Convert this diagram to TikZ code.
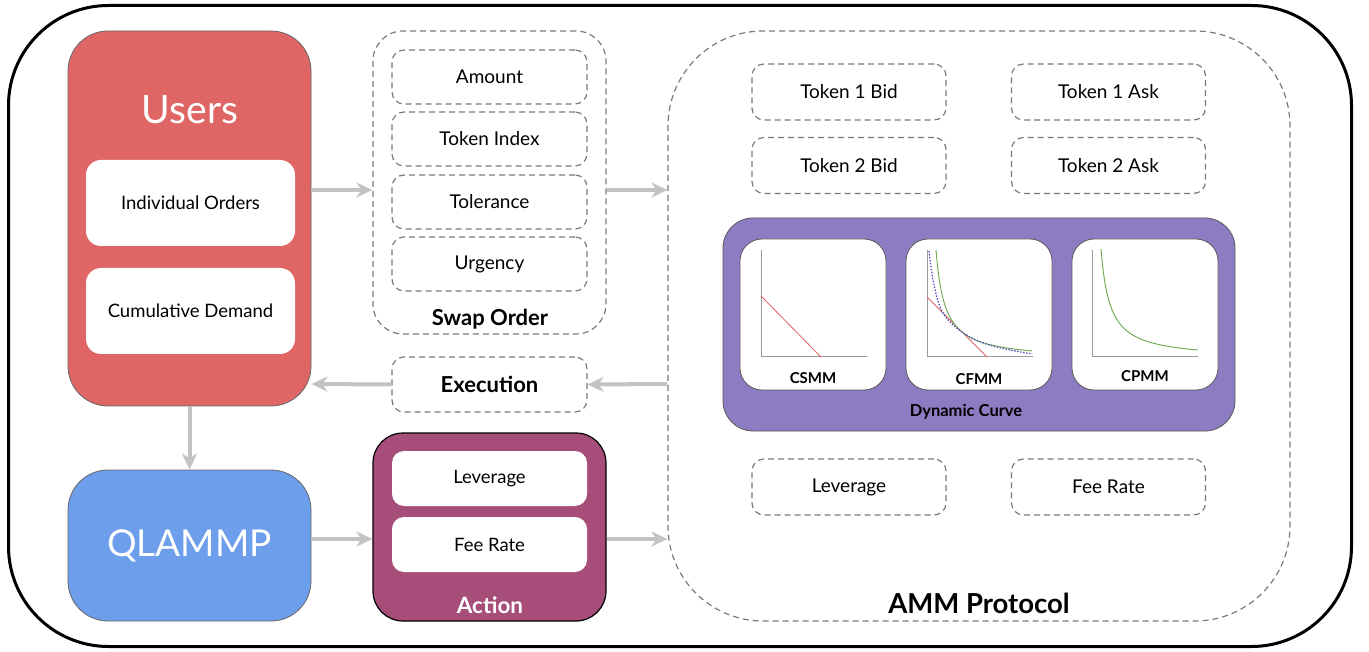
\documentclass[tikz,border=0pt]{standalone}
\usepackage{fontspec}
\setmainfont{Lato}
\usetikzlibrary{arrows.meta}
\definecolor{usersred}{HTML}{E06666}
\definecolor{qblue}{HTML}{6D9EEB}
\definecolor{actpurple}{HTML}{A64D79}
\definecolor{dynpurple}{HTML}{8E7CC3}
\definecolor{arrgray}{HTML}{C3C3C3}
\definecolor{dashgray}{HTML}{7A7A7A}
\definecolor{axgray}{HTML}{9A9A9A}
\definecolor{cgreen}{HTML}{6AA84F}
\definecolor{cred}{HTML}{E06060}
\definecolor{cblue}{HTML}{4F4FC0}
\newcommand{\fs}[1]{\fontsize{#1}{#1}\selectfont}
\tikzset{
  outerbox/.style={draw=black, line width=3, rounded corners=100},
  bigbox/.style={draw=gray!80!black, line width=0.8, rounded corners=40},
  whitebox/.style={fill=white, draw=none, rounded corners=15, font=\fs{18.5}},
  dbox/.style={draw=dashgray, line width=1.2, dash pattern=on 6pt off 4pt, rounded corners=12, font=\fs{19}},
  container/.style={draw=dashgray, line width=1.2, dash pattern=on 6pt off 4pt},
  arr/.style={draw=arrgray, line width=4, -{Stealth[length=16, width=15, inset=5]}},
  plotbox/.style={fill=white, draw=gray!70!black, line width=0.8, rounded corners=22},
  axis/.style={draw=axgray, line width=1},
  lbl/.style={font=\bfseries\fs{22}}
}
\begin{document}
\begin{tikzpicture}[x=1pt, y=-1pt]
\useasboundingbox (0,0) rectangle (1369,652);
% outer frame
\node[outerbox, minimum width=1343, minimum height=641, inner sep=0] (frame) at (680,326) {};

% Users
\node[bigbox, fill=usersred, minimum width=243, minimum height=375, inner sep=0] (users) at (189.5,218.5) {};
\node[text=white, font=\fs{39}] (userslbl) at (190,110) {Users};
\node[whitebox, minimum width=209, minimum height=86] (indiv) at (190.5,203) {Individual Orders};
\node[whitebox, minimum width=209, minimum height=86] (cumul) at (190.5,311) {Cumulative Demand};

% QLAMMP
\node[bigbox, fill=qblue, minimum width=243, minimum height=151, inner sep=0, text=white, font=\fs{37}] (qlammp) at (189.5,545.5) {QLAMMP};

% Swap order
\node[container, rounded corners=30, minimum width=233, minimum height=303, inner sep=0] (swap) at (489.5,182.5) {};
\node[dbox, minimum width=195, minimum height=54] (amount) at (489.5,77) {Amount};
\node[dbox, minimum width=195, minimum height=54] (tindex) at (489.5,139) {Token Index};
\node[dbox, minimum width=195, minimum height=54] (toler) at (489.5,202) {Tolerance};
\node[dbox, minimum width=195, minimum height=54] (urg) at (489.5,264) {Urgency};
\node[lbl] (swaplbl) at (490,319) {Swap Order};

% Execution
\node[dbox, minimum width=195, minimum height=55, font=\bfseries\fs{22}] (exec) at (489.5,384.5) {Execution};

% Action
\node[draw=black, line width=1.2, fill=actpurple, rounded corners=30, minimum width=233, minimum height=188, inner sep=0] (action) at (489.5,527) {};
\node[whitebox, rounded corners=12, minimum width=195, minimum height=55] (lev1) at (489.5,478.5) {Leverage};
\node[whitebox, rounded corners=12, minimum width=195, minimum height=55] (fee1) at (489.5,544.5) {Fee Rate};
\node[text=white, font=\bfseries\fs{22.5}] (actlbl) at (490,605) {Action};

% AMM protocol
\node[container, rounded corners=95, minimum width=622, minimum height=590, inner sep=0] (amm) at (979,326) {};
\node[font=\bfseries\fs{27.5}] (ammlbl) at (979,603) {AMM Protocol};
\node[dbox, minimum width=194, minimum height=56] (t1bid) at (849,92) {Token 1 Bid};
\node[dbox, minimum width=194, minimum height=56] (t1ask) at (1108.5,92) {Token 1 Ask};
\node[dbox, minimum width=194, minimum height=56] (t2bid) at (849,165.5) {Token 2 Bid};
\node[dbox, minimum width=194, minimum height=56] (t2ask) at (1108.5,165.5) {Token 2 Ask};
\node[dbox, minimum width=194, minimum height=56] (lev2) at (849,487) {Leverage};
\node[dbox, minimum width=194, minimum height=56] (fee2) at (1108.5,487) {Fee Rate};

% Dynamic curve
\node[draw=gray!70!black, line width=0.8, fill=dynpurple, rounded corners=30, minimum width=512, minimum height=213, inner sep=0] (dyn) at (979,324.5) {};
\node[font=\bfseries\fs{16.5}] (dynlbl) at (966,412) {Dynamic Curve};
\node[plotbox, minimum width=146, minimum height=151, inner sep=0] (csmm) at (813,314.5) {};
\node[plotbox, minimum width=146, minimum height=151, inner sep=0] (cfmm) at (979,314.5) {};
\node[plotbox, minimum width=146, minimum height=151, inner sep=0] (cpmm) at (1145,314.5) {};
\node[font=\bfseries\fs{15}] (csmmlbl) at (813,378) {CSMM};
\node[font=\bfseries\fs{15}] (cfmmlbl) at (979,379) {CFMM};
\node[font=\bfseries\fs{15}] (cpmmlbl) at (1145,376) {CPMM};

% CSMM plot
\begin{scope}[shift={(761,357)}, y=1pt]
  \draw[axis] (0,107) -- (0,0) -- (106,0);
  \draw[cred, line width=0.8] (0,61) -- (60,0);
\end{scope}
% CFMM plot
\begin{scope}[shift={(927,357)}, y=1pt]
  \draw[axis] (0,107) -- (0,0) -- (106,0);
  \draw[cred, line width=0.8] (0,60) -- (60,0);
  \draw[cgreen, line width=0.9] plot[domain=9:105, samples=60, smooth] (\x, {-3.4 + 993/\x});
  \draw[cblue, line width=1.2, dash pattern=on 1.5pt off 1.5pt] plot[smooth, tension=0.6] coordinates {(2,106) (7,72) (16,44) (35,25) (62,12) (105,3)};
\end{scope}
% CPMM plot
\begin{scope}[shift={(1092,357)}, y=1pt]
  \draw[axis] (0,107) -- (0,0) -- (106,0);
  \draw[cgreen, line width=0.9] plot[domain=9:106, samples=60, smooth] (\x, {-2.4 + 993/\x});
\end{scope}

% connectors
\coordinate (r1) at (0,190);
\coordinate (r2) at (0,384);
\coordinate (r3) at (0,539);
\draw[arr] (users.east |- r1) -- (swap.west |- r1);
\draw[arr] (swap.east |- r1) -- (amm.west |- r1);
\draw[arr] (amm.west |- r2) -- (exec.east);
\draw[arr] (exec.west) -- (users.east |- r2);
\draw[arr] (users.south) -- (qlammp.north);
\draw[arr] (qlammp.east |- r3) -- (action.west |- r3);
\draw[arr] (action.east |- r3) -- (amm.west |- r3);
\end{tikzpicture}
\end{document}
